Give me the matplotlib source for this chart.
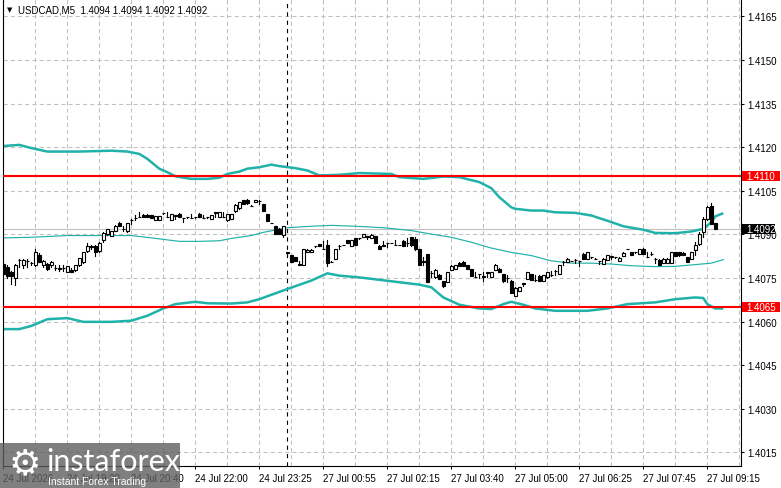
import matplotlib
matplotlib.use("Agg")
import matplotlib.pyplot as plt
from matplotlib.patches import Rectangle

plt.rcParams['font.family'] = ['Liberation Sans', 'DejaVu Sans']
plt.rcParams['lines.scale_dashes'] = False

# USDCAD M5 candles, 24 Jul 18:00 .. 27 Jul 09:25 (bar index = position on the axis)
opens = [1.40798, 1.40789, 1.40770, 1.40749, 1.40813, 1.40793, 1.40810, 1.40800, 1.40793, 1.40829,
         1.40793, 1.40798, 1.40793, 1.40785, 1.40783, 1.40786, 1.40770, 1.40778, 1.40779, 1.40795,
         1.40806, 1.40844, 1.40859, 1.40859, 1.40844, 1.40879, 1.40902, 1.40896, 1.40913, 1.40940,
         1.40920, 1.40910, 1.40948, 1.40958, 1.40960, 1.40968, 1.40968, 1.40967, 1.40951, 1.40951,
         1.40972, 1.40960, 1.40948, 1.40965, 1.40971, 1.40956, 1.40959, 1.40956, 1.40959, 1.40971,
         1.40957, 1.40959, 1.40954, 1.40976, 1.40959, 1.40960, 1.40948, 1.40954, 1.40979, 1.40990,
         1.41017, 1.41019, 1.40999, 1.41011, 1.41015, 1.41005, 1.40970, 1.40939, 1.40928, 1.40920,
         1.40898, 1.40838, 1.40829, 1.40821, 1.40796, 1.40795, 1.40838, 1.40838, 1.40859, 1.40867,
         1.40850, 1.40863, 1.40806, 1.40817, 1.40861, 1.40863, 1.40881, 1.40859, 1.40886, 1.40886,
         1.40890, 1.40893, 1.40888, 1.40893, 1.40861, 1.40861, 1.40870, 1.40870, 1.40863, 1.40863,
         1.40878, 1.40869, 1.40890, 1.40885, 1.40850, 1.40807, 1.40832, 1.40767, 1.40752, 1.40760,
         1.40740, 1.40737, 1.40778, 1.40780, 1.40801, 1.40806, 1.40795, 1.40781, 1.40753, 1.40763,
         1.40755, 1.40769, 1.40755, 1.40778, 1.40781, 1.40763, 1.40750, 1.40741, 1.40689, 1.40706,
         1.40731, 1.40746, 1.40763, 1.40742, 1.40758, 1.40741, 1.40752, 1.40759, 1.40775, 1.40763,
         1.40806, 1.40806, 1.40809, 1.40813, 1.40809, 1.40832, 1.40817, 1.40821, 1.40817, 1.40809,
         1.40798, 1.40813, 1.40821, 1.40821, 1.40809, 1.40827, 1.40850, 1.40838, 1.40838, 1.40832,
         1.40850, 1.40822, 1.40832, 1.40817, 1.40813, 1.40801, 1.40801, 1.40801, 1.40838, 1.40838,
         1.40837, 1.40821, 1.40815, 1.40847, 1.40867, 1.40907, 1.40953, 1.40999, 1.40940]
highs = [1.40805, 1.40795, 1.40773, 1.40798, 1.40814, 1.40816, 1.40816, 1.40806, 1.40850, 1.40835,
         1.40813, 1.40802, 1.40808, 1.40793, 1.40793, 1.40795, 1.40792, 1.40783, 1.40795, 1.40818,
         1.40839, 1.40871, 1.40863, 1.40862, 1.40873, 1.40908, 1.40920, 1.40912, 1.40933, 1.40942,
         1.40928, 1.40940, 1.40954, 1.40965, 1.40976, 1.40969, 1.40969, 1.40968, 1.40963, 1.40963,
         1.40973, 1.40976, 1.40971, 1.40965, 1.40972, 1.40957, 1.40960, 1.40971, 1.40960, 1.40972,
         1.40967, 1.40960, 1.40965, 1.40977, 1.40976, 1.40976, 1.40971, 1.40971, 1.41005, 1.41011,
         1.41020, 1.41021, 1.41001, 1.41020, 1.41020, 1.41006, 1.40971, 1.40940, 1.40929, 1.40922,
         1.40930, 1.40839, 1.40830, 1.40822, 1.40809, 1.40850, 1.40848, 1.40848, 1.40860, 1.40868,
         1.40878, 1.40882, 1.40807, 1.40850, 1.40862, 1.40864, 1.40882, 1.40880, 1.40887, 1.40887,
         1.40901, 1.40894, 1.40901, 1.40894, 1.40862, 1.40878, 1.40871, 1.40871, 1.40881, 1.40864,
         1.40879, 1.40886, 1.40891, 1.40890, 1.40851, 1.40821, 1.40833, 1.40775, 1.40781, 1.40765,
         1.40741, 1.40770, 1.40793, 1.40795, 1.40805, 1.40808, 1.40796, 1.40782, 1.40769, 1.40764,
         1.40769, 1.40770, 1.40770, 1.40798, 1.40783, 1.40765, 1.40760, 1.40742, 1.40718, 1.40720,
         1.40732, 1.40770, 1.40765, 1.40760, 1.40760, 1.40760, 1.40772, 1.40775, 1.40776, 1.40795,
         1.40807, 1.40818, 1.40810, 1.40814, 1.40810, 1.40836, 1.40838, 1.40822, 1.40818, 1.40810,
         1.40818, 1.40830, 1.40825, 1.40822, 1.40821, 1.40838, 1.40851, 1.40839, 1.40839, 1.40850,
         1.40852, 1.40838, 1.40840, 1.40818, 1.40814, 1.40818, 1.40818, 1.40839, 1.40839, 1.40839,
         1.40840, 1.40822, 1.40838, 1.40873, 1.40907, 1.40959, 1.40999, 1.41008, 1.40940]
lows = [1.40758, 1.40750, 1.40729, 1.40726, 1.40787, 1.40785, 1.40787, 1.40793, 1.40790, 1.40804,
        1.40789, 1.40778, 1.40789, 1.40779, 1.40775, 1.40775, 1.40769, 1.40770, 1.40775, 1.40792,
        1.40803, 1.40840, 1.40848, 1.40827, 1.40840, 1.40875, 1.40898, 1.40894, 1.40910, 1.40928,
        1.40913, 1.40908, 1.40936, 1.40948, 1.40959, 1.40959, 1.40959, 1.40958, 1.40951, 1.40951,
        1.40970, 1.40959, 1.40948, 1.40954, 1.40959, 1.40942, 1.40958, 1.40956, 1.40958, 1.40959,
        1.40956, 1.40958, 1.40954, 1.40959, 1.40959, 1.40959, 1.40947, 1.40953, 1.40977, 1.40988,
        1.41004, 1.41006, 1.40998, 1.41010, 1.41005, 1.40980, 1.40945, 1.40938, 1.40900, 1.40900,
        1.40890, 1.40827, 1.40806, 1.40809, 1.40795, 1.40794, 1.40838, 1.40838, 1.40858, 1.40859,
        1.40850, 1.40790, 1.40805, 1.40816, 1.40850, 1.40862, 1.40872, 1.40859, 1.40863, 1.40885,
        1.40890, 1.40884, 1.40887, 1.40870, 1.40850, 1.40860, 1.40856, 1.40869, 1.40862, 1.40862,
        1.40861, 1.40861, 1.40861, 1.40847, 1.40795, 1.40795, 1.40737, 1.40752, 1.40750, 1.40745,
        1.40718, 1.40736, 1.40777, 1.40780, 1.40790, 1.40792, 1.40781, 1.40758, 1.40752, 1.40749,
        1.40740, 1.40755, 1.40754, 1.40777, 1.40769, 1.40737, 1.40737, 1.40700, 1.40688, 1.40706,
        1.40723, 1.40745, 1.40744, 1.40741, 1.40741, 1.40740, 1.40751, 1.40758, 1.40760, 1.40762,
        1.40795, 1.40805, 1.40808, 1.40801, 1.40792, 1.40817, 1.40816, 1.40820, 1.40816, 1.40798,
        1.40797, 1.40812, 1.40817, 1.40820, 1.40808, 1.40826, 1.40849, 1.40829, 1.40837, 1.40831,
        1.40832, 1.40821, 1.40830, 1.40801, 1.40793, 1.40800, 1.40800, 1.40800, 1.40827, 1.40827,
        1.40828, 1.40806, 1.40814, 1.40829, 1.40865, 1.40890, 1.40950, 1.40935, 1.40920]
closes = [1.40764, 1.40756, 1.40756, 1.40795, 1.40812, 1.40813, 1.40810, 1.40800, 1.40839, 1.40806,
          1.40810, 1.40781, 1.40806, 1.40785, 1.40782, 1.40786, 1.40790, 1.40770, 1.40793, 1.40818,
          1.40839, 1.40859, 1.40858, 1.40839, 1.40871, 1.40905, 1.40919, 1.40910, 1.40930, 1.40928,
          1.40920, 1.40938, 1.40948, 1.40958, 1.40960, 1.40959, 1.40959, 1.40958, 1.40963, 1.40963,
          1.40972, 1.40961, 1.40970, 1.40964, 1.40959, 1.40955, 1.40959, 1.40957, 1.40959, 1.40959,
          1.40957, 1.40959, 1.40965, 1.40975, 1.40976, 1.40960, 1.40971, 1.40970, 1.41000, 1.41010,
          1.41005, 1.41007, 1.40999, 1.41019, 1.41014, 1.40982, 1.40947, 1.40939, 1.40901, 1.40901,
          1.40928, 1.40837, 1.40806, 1.40809, 1.40797, 1.40849, 1.40847, 1.40847, 1.40859, 1.40859,
          1.40851, 1.40801, 1.40806, 1.40850, 1.40860, 1.40863, 1.40872, 1.40880, 1.40863, 1.40886,
          1.40901, 1.40892, 1.40899, 1.40871, 1.40850, 1.40862, 1.40869, 1.40870, 1.40864, 1.40863,
          1.40861, 1.40870, 1.40862, 1.40850, 1.40795, 1.40805, 1.40737, 1.40766, 1.40778, 1.40746,
          1.40721, 1.40769, 1.40792, 1.40793, 1.40790, 1.40792, 1.40781, 1.40758, 1.40754, 1.40762,
          1.40756, 1.40768, 1.40769, 1.40793, 1.40770, 1.40739, 1.40750, 1.40700, 1.40717, 1.40720,
          1.40730, 1.40769, 1.40744, 1.40743, 1.40741, 1.40759, 1.40771, 1.40760, 1.40774, 1.40795,
          1.40805, 1.40817, 1.40809, 1.40812, 1.40808, 1.40817, 1.40838, 1.40821, 1.40817, 1.40808,
          1.40817, 1.40829, 1.40824, 1.40821, 1.40820, 1.40837, 1.40850, 1.40829, 1.40838, 1.40850,
          1.40833, 1.40823, 1.40831, 1.40816, 1.40795, 1.40817, 1.40817, 1.40838, 1.40827, 1.40828,
          1.40828, 1.40806, 1.40838, 1.40863, 1.40901, 1.40953, 1.40993, 1.40936, 1.40920]

# Bollinger bands (bar position, price)
upper_x = [0, 2, 4, 7, 11, 19, 27, 31, 34, 36, 39, 41, 43, 47, 51, 54, 56, 59, 61, 64,
           67, 69, 73, 76, 79, 84, 89, 97, 99, 105, 110, 114, 119, 122, 124, 127, 128, 132, 135, 138,
           143, 147, 151, 155, 160, 163, 168, 172, 175, 177, 178, 180]
upper = [1.41204, 1.41206, 1.41208, 1.41197, 1.41185, 1.41185, 1.41188, 1.41185, 1.41177, 1.41160,
         1.41126, 1.41114, 1.41100, 1.41091, 1.41091, 1.41095, 1.41108, 1.41116, 1.41126, 1.41131,
         1.41140, 1.41135, 1.41128, 1.41120, 1.41103, 1.41105, 1.41111, 1.41108, 1.41097, 1.41091,
         1.41099, 1.41097, 1.41080, 1.41059, 1.41028, 1.40993, 1.40988, 1.40982, 1.40982, 1.40976,
         1.40974, 1.40965, 1.40947, 1.40928, 1.40916, 1.40905, 1.40904, 1.40910, 1.40919, 1.40942,
         1.40962, 1.40973]
mid_x = [0, 7, 16, 24, 32, 37, 44, 49, 54, 57, 62, 65, 71, 77, 82, 88, 95, 102, 107, 112,
         117, 122, 127, 132, 137, 142, 147, 152, 157, 163, 168, 173, 177, 180]
mid = [1.40888, 1.40890, 1.40896, 1.40896, 1.40896, 1.40888, 1.40876, 1.40876, 1.40878, 1.40886,
       1.40896, 1.40907, 1.40923, 1.40928, 1.40931, 1.40928, 1.40923, 1.40913, 1.40901, 1.40890,
       1.40873, 1.40853, 1.40838, 1.40827, 1.40809, 1.40801, 1.40801, 1.40798, 1.40792, 1.40789,
       1.40790, 1.40796, 1.40801, 1.40813]
lower_x = [0, 4, 7, 11, 16, 20, 27, 32, 36, 40, 43, 48, 51, 57, 61, 64, 71, 77, 81, 84,
           89, 98, 104, 107, 110, 114, 119, 122, 125, 127, 130, 133, 138, 146, 151, 156, 163, 168, 173, 175,
           176, 178, 180]
lower = [1.40574, 1.40574, 1.40585, 1.40608, 1.40612, 1.40599, 1.40599, 1.40603, 1.40620, 1.40645,
         1.40660, 1.40668, 1.40663, 1.40662, 1.40666, 1.40677, 1.40712, 1.40741, 1.40766, 1.40758,
         1.40752, 1.40737, 1.40727, 1.40718, 1.40683, 1.40658, 1.40645, 1.40643, 1.40660, 1.40668,
         1.40658, 1.40645, 1.40637, 1.40637, 1.40645, 1.40660, 1.40666, 1.40677, 1.40683, 1.40681,
         1.40660, 1.40645, 1.40645]

levels = [1.4110, 1.4065]
last_price = 1.4092
separator_bar = 71

price_ticks = [1.4015, 1.4030, 1.4045, 1.4060, 1.4075, 1.4090, 1.4105, 1.4120, 1.4135, 1.4150, 1.4165]
time_bars = [0, 16, 32, 48, 64, 80, 96, 112, 128, 144, 160, 176]
time_labels = ['24 Jul 2026', '24 Jul 19:20', '24 Jul 20:40', '24 Jul 22:00', '24 Jul 23:25',
               '27 Jul 00:55', '27 Jul 02:15', '27 Jul 03:40', '27 Jul 05:00', '27 Jul 06:25',
               '27 Jul 07:45', '27 Jul 09:15']

W, H = 781, 489
fig = plt.figure(figsize=(W / 100, H / 100), dpi=100)
ax = fig.add_axes([3 / W, 22.3 / H, 737.7 / W, 466.7 / H])
ax.set_xlim(-0.075, 184.35)
ax.set_ylim(1.40104, 1.41710)

bb_color = '#20B2AA'
grid_style = dict(color='#C0C0C0', lw=0.75, ls=(0, (3, 2.2)))

# grid
for b in range(0, 185, 8):
    ax.axvline(b, zorder=0.5, **grid_style)
for p in price_ticks:
    ax.axhline(p, zorder=0.5, **grid_style)

ax.axhline(last_price, color='#C0C0C0', lw=0.8, zorder=1)
ax.axvline(separator_bar, color='black', lw=0.8, ls=(0, (3, 3)), zorder=1.2)

# bollinger bands
ax.plot(upper_x, upper, color=bb_color, lw=1.8, zorder=2, solid_capstyle='butt')
ax.plot(lower_x, lower, color=bb_color, lw=1.8, zorder=2, solid_capstyle='butt')
ax.plot(mid_x, mid, color=bb_color, lw=0.85, zorder=2)

# candles
body_w = 0.6
for i in range(len(opens)):
    o, h, l, c = opens[i], highs[i], lows[i], closes[i]
    ax.plot([i, i], [l, h], color='black', lw=0.8, zorder=3)
    face = 'white' if c >= o else 'black'
    ax.add_patch(Rectangle((i - body_w / 2, min(o, c)), body_w, abs(c - o),
                           facecolor=face, edgecolor='black', lw=0.8, zorder=3.5))

for lv in levels:
    ax.axhline(lv, color='#FF0000', lw=1.5, zorder=4)

# axes look
for s in ['left', 'bottom', 'right']:
    ax.spines[s].set_color('black')
    ax.spines[s].set_linewidth(0.8)
ax.spines['top'].set_visible(False)

ax.yaxis.tick_right()
ax.set_yticks(price_ticks)
ax.set_yticklabels(['%.4f' % p for p in price_ticks])
ax.tick_params(axis='y', length=2.5, width=0.75, pad=2.2, labelsize=7, colors='black')

ax.set_xticks(time_bars)
ax.set_xticklabels(time_labels, ha='left')
ax.tick_params(axis='x', length=2.5, width=0.75, pad=2.5, labelsize=7, colors='black')

# price tags on the right scale
tr = ax.get_yaxis_transform()
tag_h = 0.000344
for lv in levels:
    ax.add_patch(Rectangle((1.0014, lv - tag_h / 2), 0.0519, tag_h, transform=tr,
                           facecolor='#FF0000', edgecolor='none', clip_on=False, zorder=10))
    ax.text(1.0072, lv, '%.4f' % lv, transform=tr, color='white', fontsize=7,
            va='center', ha='left', clip_on=False, zorder=11)
ax.add_patch(Rectangle((1.0014, last_price - tag_h / 2), 0.0451, tag_h, transform=tr,
                       facecolor='black', edgecolor='none', clip_on=False, zorder=10))
ax.text(1.0072, last_price, '%.4f' % last_price, transform=tr, color='white', fontsize=7,
        va='center', ha='left', clip_on=False, zorder=11)

# title line
fig.text(7 / W, 1 - 10.5 / H, '\u25bc', fontsize=5, va='center', ha='left',
         family=['DejaVu Sans'])
fig.text(18 / W, 1 - 10.5 / H, 'USDCAD,M5  %.4f %.4f %.4f %.4f' % (opens[-1], highs[-1], lows[-1], closes[-1]),
         fontsize=7, va='center', ha='left')

# watermark
fig.add_artist(Rectangle((0, 0), 180 / W, 45 / H, transform=fig.transFigure,
                         facecolor='#5f5f5f', alpha=0.8, edgecolor='none', zorder=20))
fig.text(25 / W, 1 - 464 / H, '\u2699', fontsize=26, color='white', ha='center', va='center',
         family=['DejaVu Sans'], zorder=21)
fig.text(46 / W, 1 - 462 / H, 'instaforex', fontsize=22, color='white', ha='left', va='center',
         family=['Lato', 'DejaVu Sans'], zorder=21)
fig.text(48 / W, 1 - 482 / H, 'Instant Forex Trading', fontsize=7.5, color='white', ha='left',
         va='center', zorder=21)

fig.savefig('out.png', dpi=100)
